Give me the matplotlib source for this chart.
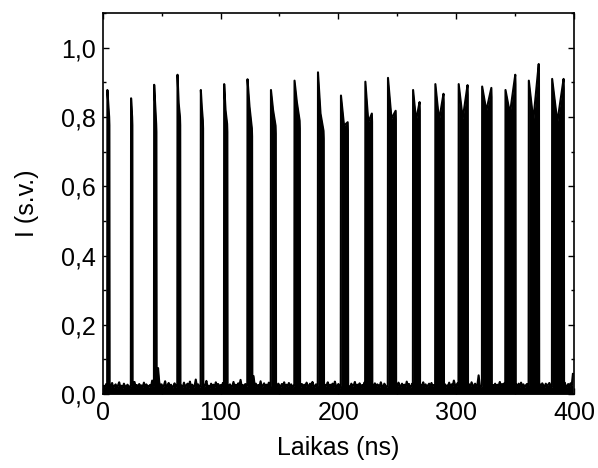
import numpy as np
import matplotlib
matplotlib.use("Agg")
import matplotlib.pyplot as plt
from matplotlib.ticker import MultipleLocator, FuncFormatter

plt.rcParams['font.family'] = ['Liberation Sans', 'DejaVu Sans']

# Pulse parameters (ns, intensity)
pulse_start = [3.9, 24.0, 43.6, 63.4, 83.2, 103.0, 122.8, 142.7, 162.7, 182.6,
               202.1, 222.8, 242.0, 263.3, 282.2, 302.0, 321.9, 341.7, 361.5, 381.3]
pulse_width = [1.8, 1.2, 2.0, 2.4, 2.0, 2.8, 4.0, 4.2, 4.6, 5.0,
               6.0, 5.8, 6.8, 5.8, 7.2, 7.8, 8.1, 8.6, 8.7, 10.0]
pulse_peak1 = [0.878, 0.854, 0.893, 0.922, 0.878, 0.895, 0.909, 0.878, 0.905, 0.929,
               0.862, 0.902, 0.913, 0.878, 0.895, 0.895, 0.888, 0.878, 0.905, 0.910]
pulse_dip = [0.84, 0.83, 0.84, 0.84, 0.83, 0.82, 0.83, 0.82, 0.843, 0.81,
             0.775, 0.785, 0.795, 0.79, 0.79, 0.795, 0.818, 0.81, 0.79, 0.785]
pulse_peak2 = [0.80, 0.80, 0.78, 0.80, 0.79, 0.78, 0.767, 0.775, 0.79, 0.76,
               0.785, 0.81, 0.818, 0.843, 0.867, 0.892, 0.884, 0.922, 0.953, 0.910]

# Baseline noise, one value per ns (0..399)
baseline = [
    0.018, 0.024, 0.020, 0.029, 0.022, 0.016, 0.026, 0.021, 0.032, 0.019,
    0.023, 0.028, 0.018, 0.025, 0.034, 0.020, 0.024, 0.017, 0.030, 0.022,
    0.020, 0.027, 0.023, 0.016, 0.031, 0.024, 0.019, 0.035, 0.021, 0.026,
    0.018, 0.029, 0.022, 0.025, 0.020, 0.033, 0.017, 0.028, 0.023, 0.020,
    0.026, 0.021, 0.039, 0.024, 0.019, 0.030, 0.050, 0.075, 0.034, 0.022,
    0.028, 0.020, 0.025, 0.037, 0.018, 0.024, 0.032, 0.021, 0.027, 0.016,
    0.023, 0.031, 0.020, 0.026, 0.022, 0.029, 0.045, 0.024, 0.020, 0.033,
    0.019, 0.025, 0.030, 0.017, 0.036, 0.022, 0.027, 0.020, 0.024, 0.042,
    0.021, 0.028, 0.018, 0.026, 0.023, 0.032, 0.020, 0.025, 0.038, 0.020,
    0.024, 0.017, 0.030, 0.022, 0.027, 0.019, 0.034, 0.023, 0.029, 0.020,
    0.026, 0.021, 0.032, 0.018, 0.025, 0.030, 0.050, 0.022, 0.028, 0.020,
    0.023, 0.035, 0.020, 0.027, 0.017, 0.031, 0.024, 0.041, 0.021, 0.026,
    0.019, 0.029, 0.022, 0.033, 0.025, 0.020, 0.028, 0.018, 0.052, 0.024,
    0.030, 0.020, 0.026, 0.022, 0.037, 0.019, 0.025, 0.031, 0.020, 0.027,
    0.022, 0.033, 0.018, 0.028, 0.024, 0.039, 0.021, 0.026, 0.020, 0.030,
    0.025, 0.020, 0.029, 0.023, 0.034, 0.019, 0.027, 0.022, 0.032, 0.021,
    0.028, 0.018, 0.024, 0.031, 0.020, 0.026, 0.023, 0.046, 0.020, 0.029,
    0.022, 0.027, 0.019, 0.033, 0.025, 0.021, 0.030, 0.017, 0.035, 0.024,
    0.020, 0.028, 0.023, 0.018, 0.031, 0.044, 0.026, 0.020, 0.029, 0.022,
    0.025, 0.034, 0.020, 0.027, 0.023, 0.030, 0.019, 0.036, 0.024, 0.021,
    0.029, 0.018, 0.026, 0.032, 0.021, 0.024, 0.020, 0.028, 0.040, 0.022,
    0.019, 0.030, 0.023, 0.025, 0.035, 0.020, 0.027, 0.022, 0.031, 0.018,
    0.026, 0.021, 0.033, 0.020, 0.024, 0.029, 0.023, 0.038, 0.020, 0.027,
    0.022, 0.031, 0.018, 0.028, 0.025, 0.020, 0.034, 0.023, 0.019, 0.030,
    0.024, 0.020, 0.032, 0.021, 0.026, 0.023, 0.029, 0.042, 0.022, 0.028,
    0.020, 0.033, 0.025, 0.019, 0.030, 0.022, 0.027, 0.021, 0.036, 0.024,
    0.029, 0.018, 0.023, 0.031, 0.020, 0.026, 0.022, 0.048, 0.025, 0.020,
    0.027, 0.023, 0.034, 0.019, 0.028, 0.021, 0.025, 0.030, 0.020, 0.032,
    0.022, 0.026, 0.020, 0.029, 0.023, 0.035, 0.018, 0.027, 0.024, 0.021,
    0.030, 0.019, 0.025, 0.022, 0.033, 0.020, 0.028, 0.023, 0.039, 0.026,
    0.020, 0.031, 0.023, 0.027, 0.019, 0.029, 0.024, 0.021, 0.032, 0.025,
    0.022, 0.028, 0.020, 0.034, 0.026, 0.018, 0.030, 0.023, 0.027, 0.054,
    0.024, 0.020, 0.029, 0.022, 0.031, 0.025, 0.020, 0.028, 0.023, 0.033,
    0.019, 0.026, 0.022, 0.030, 0.021, 0.027, 0.024, 0.035, 0.020, 0.029,
    0.023, 0.032, 0.020, 0.025, 0.028, 0.022, 0.031, 0.019, 0.026, 0.037,
    0.021, 0.027, 0.024, 0.030, 0.020, 0.033, 0.023, 0.028, 0.020, 0.025,
    0.029, 0.022, 0.032, 0.019, 0.026, 0.023, 0.034, 0.021, 0.049, 0.024,
    0.020, 0.028, 0.023, 0.031, 0.025, 0.020, 0.030, 0.022, 0.027, 0.032,
    0.024, 0.019, 0.029, 0.023, 0.035, 0.021, 0.026, 0.044, 0.030, 0.022,
    0.027, 0.020, 0.033, 0.024, 0.020, 0.029, 0.022, 0.031, 0.025, 0.058,
]

x_ticks = [0, 100, 200, 300, 400]
y_ticks = [0.0, 0.2, 0.4, 0.6, 0.8, 1.0]

# Assemble the waveform envelope
t_base = np.arange(len(baseline), dtype=float)
pts = []
for tb, vb in zip(t_base, baseline):
    inside = any((tb >= s - 0.2) and (tb <= s + w + 0.3)
                 for s, w in zip(pulse_start, pulse_width))
    if not inside:
        pts.append((tb, vb))
for s, w, p1, d, p2 in zip(pulse_start, pulse_width, pulse_peak1, pulse_dip, pulse_peak2):
    pts += [(s - 0.1, 0.025), (s + 0.1, p1), (s + 0.45 * w, d),
            (s + max(w - 0.2, 0.5 * w), p2), (s + w, p2 * 0.97), (s + w + 0.2, 0.025)]
pts.sort(key=lambda p: p[0])
t = np.array([p[0] for p in pts])
y = np.array([p[1] for p in pts])

fig = plt.figure(figsize=(5.98, 4.68), dpi=100)
ax = fig.add_axes([0.1717, 0.158, 0.7883, 0.814])
ax.fill_between(t, 0, y, color='black', linewidth=0)
ax.plot(t, y, color='black', linewidth=1.5)

ax.set_xlim(0, 400)
ax.set_ylim(0, 1.1)
ax.set_xticks(x_ticks)
ax.set_yticks(y_ticks)
ax.xaxis.set_minor_locator(MultipleLocator(50))
ax.yaxis.set_minor_locator(MultipleLocator(0.1))
ax.yaxis.set_major_formatter(FuncFormatter(lambda v, p: f"{v:.1f}".replace('.', ',')))
ax.tick_params(which='both', direction='in', top=True, right=True, labelsize=18, width=1, pad=5)
ax.tick_params(which='major', length=4)
ax.tick_params(which='minor', length=2.5)
for sp in ax.spines.values():
    sp.set_linewidth(1.2)

ax.set_xlabel('Laikas (ns)', fontsize=18, labelpad=8)
ax.set_ylabel('I (s.v.)', fontsize=18, labelpad=16)

fig.savefig('out.png', dpi=100)
